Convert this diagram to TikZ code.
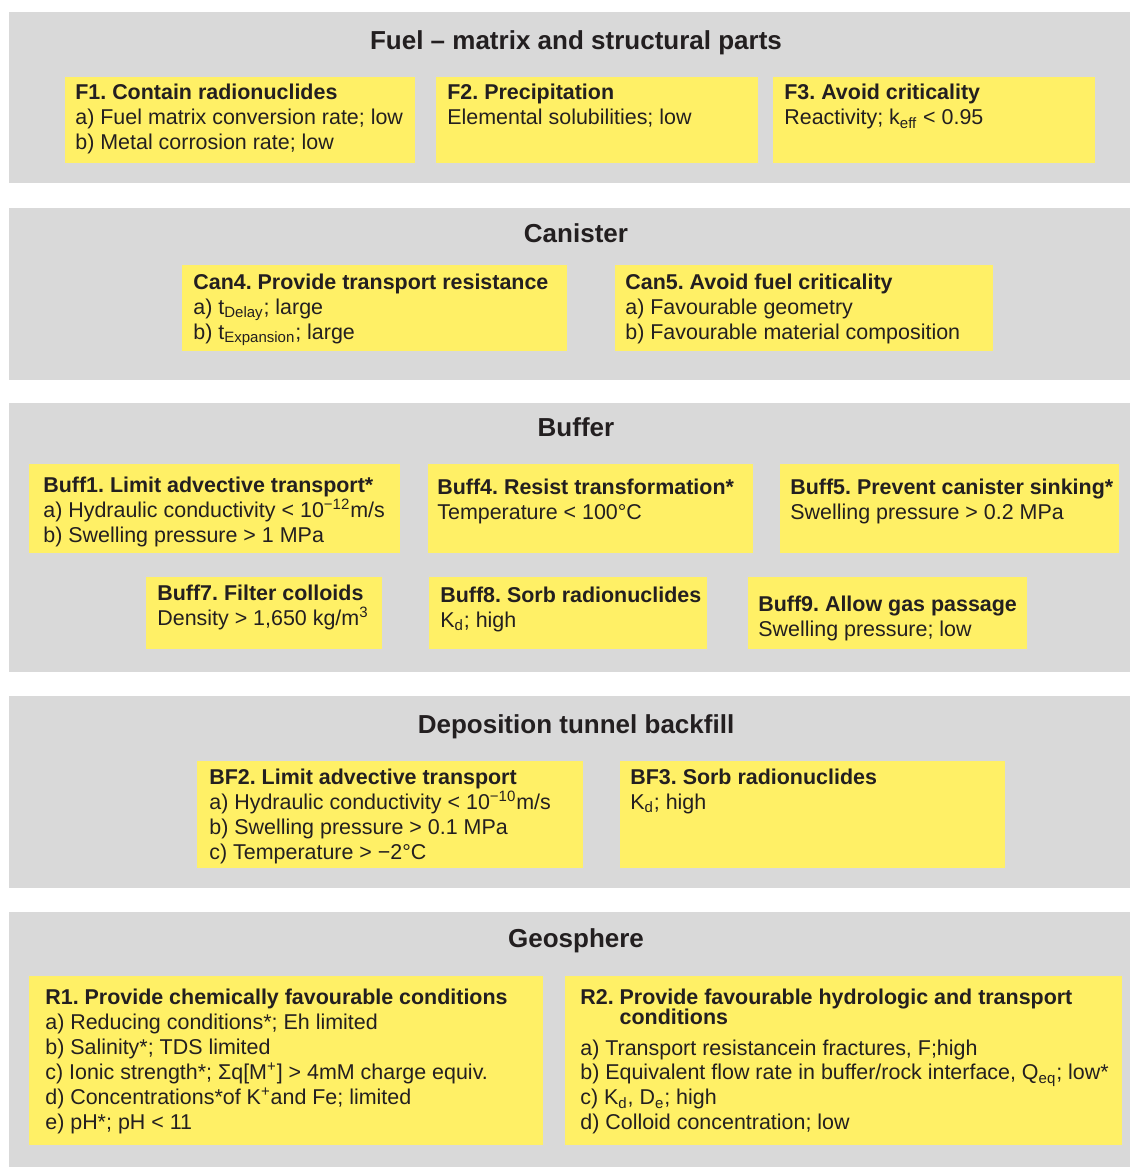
\documentclass[tikz,border=0pt]{standalone}
\usepackage{fontspec}
\setmainfont{Liberation Sans}
\usepackage{tikz}
\usetikzlibrary{positioning}
\definecolor{bandgray}{RGB}{217,217,217}
\definecolor{goalyellow}{RGB}{255,240,102}
\definecolor{textdark}{RGB}{35,31,32}
\frenchspacing

\begin{document}
\begin{tikzpicture}[
        font=\fontsize{12.2}{14.2}\selectfont,
        text=textdark,
        % Styles
        band/.style={% For the grey band of each barrier
            rectangle,
            fill=bandgray,
            anchor=north west,
            inner sep=0pt,
            outer sep=0pt,
            minimum width=22.42cm,
            },
        bandtitle/.style={% For the band headings
            anchor=base,
            font=\fontsize{14.8}{17}\selectfont\bfseries,
            },
        goal/.style={% For the yellow boxes
            rectangle,
            fill=goalyellow,
            anchor=north west,
            inner sep=0pt,
            outer sep=0pt,
            },
        goaltext/.style={% For the text inside the yellow boxes
            align=left,
            inner sep=0pt,
            },
        ]

    \useasboundingbox (0,0) rectangle (22.6,-23.34);

    % Nodes
        % Draw the grey bands
        \node [band, minimum height=3.42cm] (fuel) at (0.18,-0.24) {};
        \node [band, minimum height=3.44cm] (canister) at (0.18,-4.16) {};
        \node [band, minimum height=5.38cm] (buffer) at (0.18,-8.06) {};
        \node [band, minimum height=3.84cm] (backfill) at (0.18,-13.92) {};
        \node [band, minimum height=5.10cm] (geosphere) at (0.18,-18.24) {};

        % Draw the headings
        \node [bandtitle] (fuelhead) at (11.52,-0.98) {Fuel – matrix and structural parts};
        \node [bandtitle] (canhead) at (11.52,-4.84) {Canister};
        \node [bandtitle] (buffhead) at (11.52,-8.72) {Buffer};
        \node [bandtitle] (bfhead) at (11.52,-14.66) {Deposition tunnel backfill};
        \node [bandtitle] (geohead) at (11.52,-18.94) {Geosphere};

        % Fuel boxes
        \node [goal, minimum width=7cm, minimum height=1.72cm] (F1) at (1.30,-1.54) {};
        \node [goal, minimum width=6.44cm, minimum height=1.72cm] (F2) at (8.72,-1.54) {};
        \node [goal, minimum width=6.44cm, minimum height=1.72cm] (F3) at (15.46,-1.54) {};
        \node [goaltext, below right=0.14cm and 0.2cm of F1.north west] (F1text)
            {\textbf{F1. Contain radionuclides}\\a) Fuel matrix conversion rate; low\\b) Metal corrosion rate; low};
        \node [goaltext, below right=0.14cm and 0.22cm of F2.north west] (F2text)
            {\textbf{F2. Precipitation}\\Elemental solubilities; low};
        \node [goaltext, below right=0.14cm and 0.22cm of F3.north west] (F3text)
            {\textbf{F3. Avoid criticality}\\Reactivity; k\textsubscript{eff} < 0.95};

        % Canister boxes
        \node [goal, minimum width=7.70cm, minimum height=1.72cm] (Can4) at (3.64,-5.30) {};
        \node [goal, minimum width=7.56cm, minimum height=1.72cm] (Can5) at (12.30,-5.30) {};
        \node [goaltext, below right=0.17cm and 0.22cm of Can4.north west] (Can4text)
            {\textbf{Can4. Provide transport resistance}\\a) t\textsubscript{Delay}; large\\b) t\textsubscript{Expansion}; large};
        \node [goaltext, below right=0.17cm and 0.2cm of Can5.north west] (Can5text)
            {\textbf{Can5. Avoid fuel criticality}\\a) Favourable geometry\\b) Favourable material composition};

        % Buffer boxes
        \node [goal, minimum width=7.42cm, minimum height=1.78cm] (Buff1) at (0.58,-9.28) {};
        \node [goal, minimum width=6.50cm, minimum height=1.78cm] (Buff4) at (8.56,-9.28) {};
        \node [goal, minimum width=6.78cm, minimum height=1.78cm] (Buff5) at (15.60,-9.28) {};
        \node [goal, minimum width=4.72cm, minimum height=1.44cm] (Buff7) at (2.92,-11.54) {};
        \node [goal, minimum width=5.56cm, minimum height=1.44cm] (Buff8) at (8.58,-11.54) {};
        \node [goal, minimum width=5.58cm, minimum height=1.44cm] (Buff9) at (14.96,-11.54) {};
        \node [goaltext, below right=0.25cm and 0.28cm of Buff1.north west] (Buff1text)
            {\textbf{Buff1. Limit advective transport*}\\a) Hydraulic conductivity < 10\textsuperscript{−12}m/s\\b) Swelling pressure > 1 MPa};
        \node [goaltext, below right=0.29cm and 0.18cm of Buff4.north west] (Buff4text)
            {\textbf{Buff4. Resist transformation*}\\Temperature < 100°C};
        \node [goaltext, below right=0.29cm and 0.2cm of Buff5.north west] (Buff5text)
            {\textbf{Buff5. Prevent canister sinking*}\\Swelling pressure > 0.2 MPa};
        \node [goaltext, below right=0.15cm and 0.22cm of Buff7.north west] (Buff7text)
            {\textbf{Buff7. Filter colloids}\\Density > 1,650 kg/m\textsuperscript{3}};
        \node [goaltext, below right=0.19cm and 0.22cm of Buff8.north west] (Buff8text)
            {\textbf{Buff8. Sorb radionuclides}\\K\textsubscript{d}; high};
        \node [goaltext, below right=0.38cm and 0.2cm of Buff9.north west] (Buff9text)
            {\textbf{Buff9. Allow gas passage}\\Swelling pressure; low};

        % Backfill boxes
        \node [goal, minimum width=7.72cm, minimum height=2.14cm] (BF2) at (3.94,-15.22) {};
        \node [goal, minimum width=7.70cm, minimum height=2.14cm] (BF3) at (12.40,-15.22) {};
        \node [goaltext, below right=0.15cm and 0.24cm of BF2.north west] (BF2text)
            {\textbf{BF2. Limit advective transport}\\a) Hydraulic conductivity < 10\textsuperscript{−10}m/s\\b) Swelling pressure > 0.1 MPa\\c) Temperature > −2°C};
        \node [goaltext, below right=0.15cm and 0.2cm of BF3.north west] (BF3text)
            {\textbf{BF3. Sorb radionuclides}\\K\textsubscript{d}; high};

        % Geosphere boxes
        \node [goal, minimum width=10.28cm, minimum height=3.38cm] (R1) at (0.58,-19.52) {};
        \node [goal, minimum width=11.14cm, minimum height=3.38cm] (R2) at (11.30,-19.52) {};
        \node [goaltext, below right=0.25cm and 0.32cm of R1.north west] (R1text)
            {\textbf{R1. Provide chemically favourable conditions}\\a) Reducing conditions*; Eh limited\\b) Salinity*; TDS limited\\c) Ionic strength*; Σq[M\textsuperscript{+}] > 4mM charge equiv.\\d) Concentrations*of K\textsuperscript{+}and Fe; limited\\e) pH*; pH < 11};
        \node [goaltext, below right=0.25cm and 0.3cm of R2.north west] (R2text)
            {\textbf{R2. Provide favourable hydrologic and transport}\\[-3pt]\textbf{\phantom{R2. }conditions}\\[3.4pt]a) Transport resistancein fractures, F;high\\b) Equivalent flow rate in buffer/rock interface, Q\textsubscript{eq}; low*\\c) K\textsubscript{d}, D\textsubscript{e}; high\\d) Colloid concentration; low};

\end{tikzpicture}
\end{document}
